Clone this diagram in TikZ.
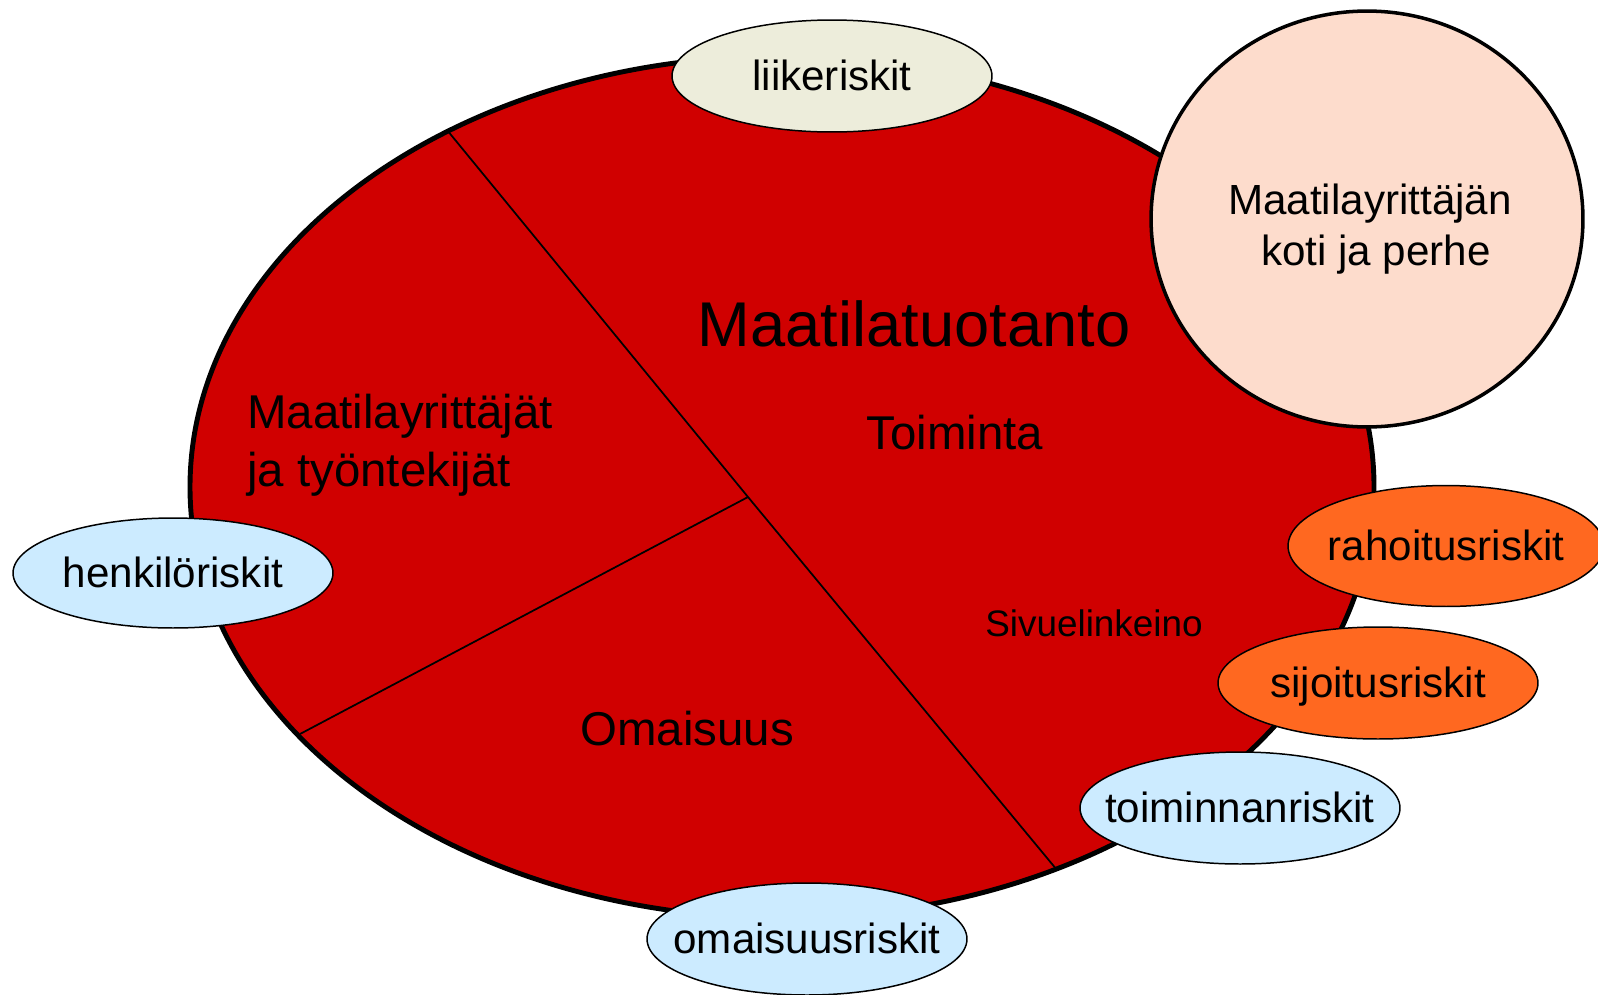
\documentclass[tikz,border=0pt]{standalone}
\usepackage{fontspec}
\setmainfont{Liberation Sans}
\usepackage{tikz}
\usetikzlibrary{shapes.geometric}

\definecolor{tuotanto}{RGB}{208,0,0}
\definecolor{liike}{RGB}{237,237,219}
\definecolor{vaalea}{RGB}{204,235,255}
\definecolor{oranssi}{RGB}{255,104,32}
\definecolor{koti}{RGB}{253,220,204}

\begin{document}
\begin{tikzpicture}[x=0.02cm,y=-0.02cm,
    riski/.style={ellipse,draw=black,line width=0.85pt,inner sep=0pt,
      minimum width=6.4cm,minimum height=2.24cm,
      text height=17pt,text depth=0pt,font=\fontsize{24}{29}\selectfont},
    osa/.style={font=\fontsize{27}{33}\selectfont}]
          \useasboundingbox (0,0) rectangle (1598,994);
          % maatilatuotanto
          \fill[tuotanto] (782,487) ellipse (592 and 431);
          \draw[line width=2.8pt] (782,487) ellipse (592 and 431);
          \coordinate (keski) at (748,497);
          \coordinate (ylä) at (447,130);
          \coordinate (vasen) at (300,734);
          \coordinate (ala) at (1057,870);
          \draw[line width=1pt] (ylä) -- (keski) -- (ala);
          \draw[line width=1pt] (keski) -- (vasen);
          \node[font=\fontsize{36}{43}\selectfont] (tuotanto) at (914,324) {Maatilatuotanto};
          \node[osa] (toiminta) at (955,433) {Toiminta};
          \node[osa,align=left,anchor=west] (yrittajat) at (241,445) {Maatilayrittäjät\\ja työntekijät};
          \node[osa] (omaisuus) at (687,729) {Omaisuus};
          \node[font=\fontsize{21}{25}\selectfont] (sivu) at (1094,623) {Sivuelinkeino};
          % riskit
          \node[riski,fill=liike] (liike) at (832,76) {\makebox[0pt]{liikeriskit}};
          \node[riski,fill=vaalea,minimum height=2.2cm] (henkilo) at (173,573) {\makebox[0pt]{henkilöriskit}};
          \node[riski,fill=oranssi,minimum width=6.32cm,minimum height=2.42cm] (rahoitus) at (1446,546) {\makebox[0pt]{rahoitusriskit}};
          \node[riski,fill=oranssi] (sijoitus) at (1378,683) {\makebox[0pt]{sijoitusriskit}};
          \node[riski,fill=vaalea] (toiminnan) at (1240,808) {\makebox[0pt]{toiminnanriskit}};
          \node[riski,fill=vaalea] (omaisuusr) at (807,939) {\makebox[0pt]{omaisuusriskit}};
          % koti ja perhe
          \node[ellipse,draw=black,line width=2pt,fill=koti,inner sep=0pt,
            minimum width=8.64cm,minimum height=8.32cm] (koti) at (1367,219) {};
          \node[align=center,font=\fontsize{24}{29}\selectfont] (kotiteksti) at (1370,229) {Maatilayrittäjän\\\hspace*{.28em}koti ja perhe};
        \end{tikzpicture}
\end{document}
